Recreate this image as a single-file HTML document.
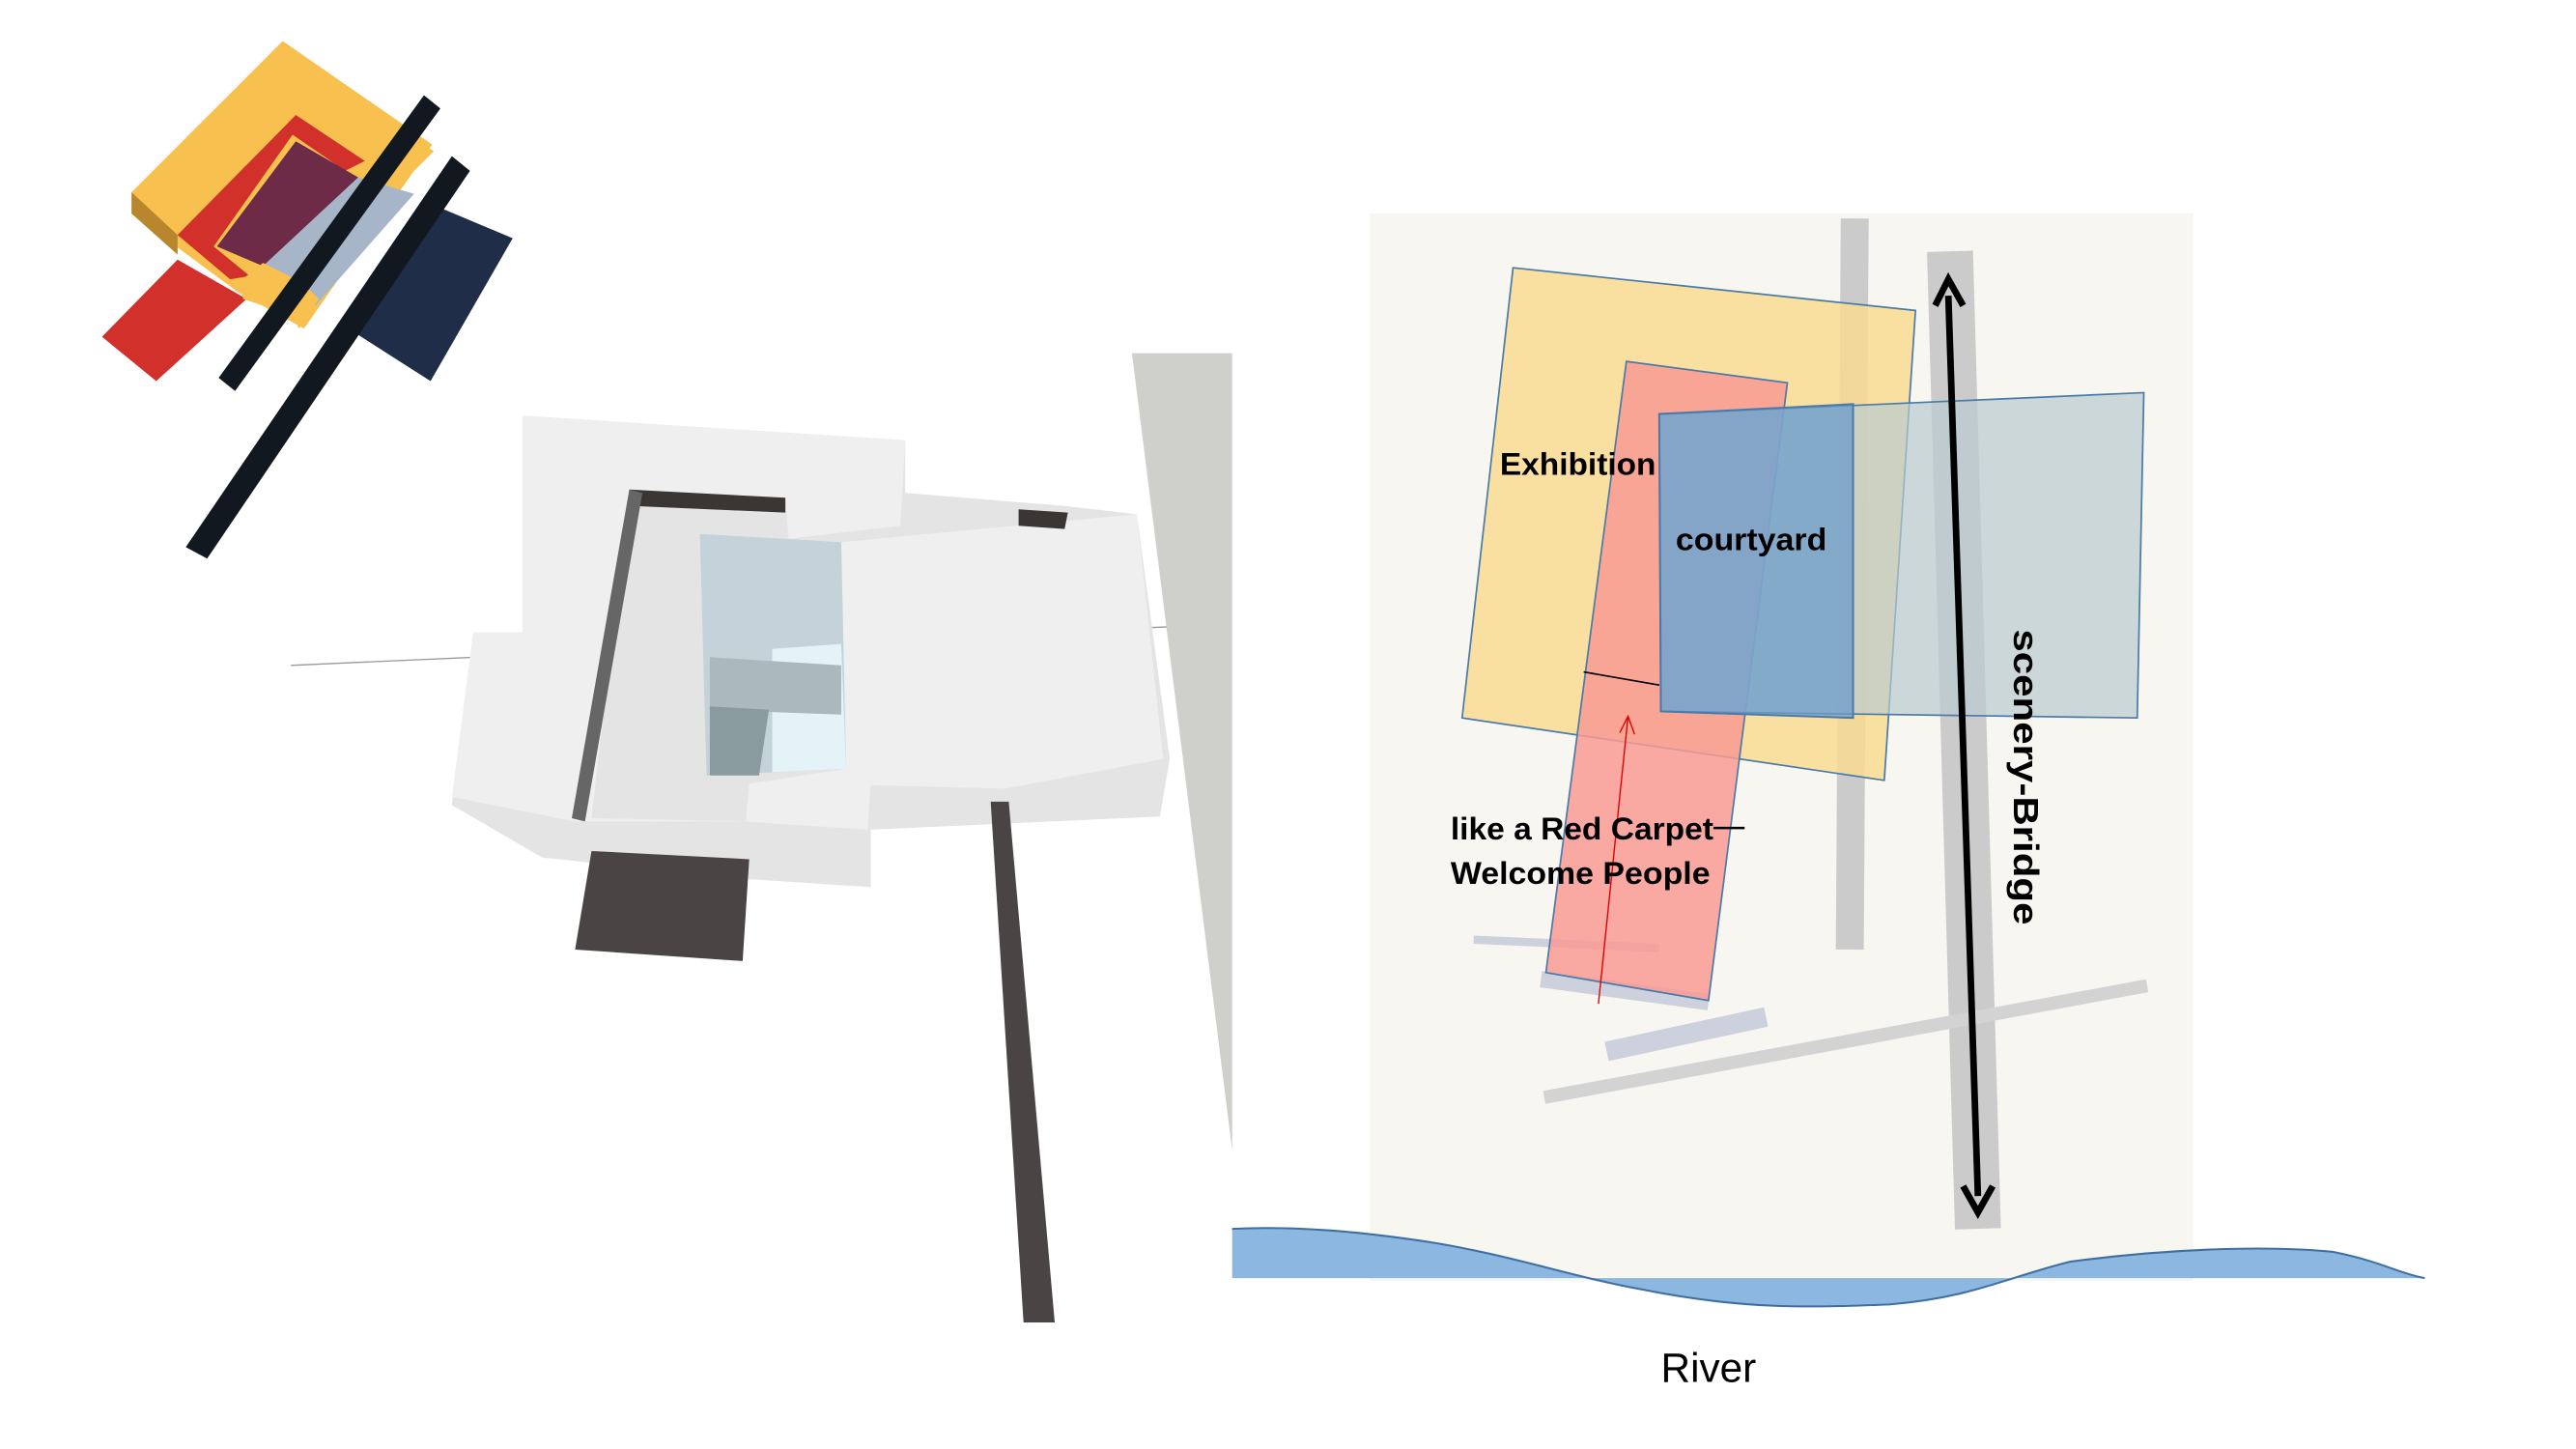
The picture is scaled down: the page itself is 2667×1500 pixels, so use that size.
<!DOCTYPE html>
<html><head><meta charset="utf-8"><style>
html,body{margin:0;padding:0;background:#fff;}
svg{display:block;}
text{font-family:"Liberation Sans",sans-serif;}
</style></head><body>
<svg width="2667" height="1500" viewBox="0 0 1568 882" xmlns="http://www.w3.org/2000/svg">
<rect width="1568" height="882" fill="#fff"/>
<!-- axon model -->
<polygon points="80,117 172,25 263,88 185,200 145,178 80,130" fill="#f8c04f"/>
<polygon points="80,117 108,143 108,155 80,130" fill="#b8862c"/>
<polygon points="108,143 180,70 222,98 210,104 178,82 130,150 152,168 140,170" fill="#d2302a"/>
<polygon points="62,205 108,158 150,182 95,232" fill="#d2302a"/>
<polygon points="132,150 180,86 218,108 160,162" fill="#6e2b47"/>
<polygon points="160,162 218,108 252,118 192,186" fill="#a7b5c8"/>
<polygon points="145,172 160,160 180,170 166,188 148,182" fill="#f8c04f"/>
<polygon points="174,186 186,174 194,182 182,200" fill="#f8c04f"/>
<polygon points="238,92 252,84 264,92 250,106" fill="#f8c04f"/>
<polygon points="212,200 262,124 312,145 262,232" fill="#1f2d48"/>
<polygon points="133,230 258,58 268,66 143,238" fill="#111820"/>
<polygon points="113,333 275,95 286,104 126,340" fill="#111820"/>
<!-- building -->
<line x1="177" y1="405" x2="290" y2="400" stroke="#999" stroke-width="0.8"/>
<line x1="700" y1="382" x2="750" y2="380" stroke="#999" stroke-width="0.8"/>
<polygon points="318,253 551,268 551,300 648,308 692,313 712,462 706,497 530,505 530,540 454,535 330,522 275,490 288,385 318,385" fill="#e4e4e4"/>
<polygon points="318,253 551,268 548,320 480,328 478,303 383,298 360,498 454,500 456,477 515,468 512,330 692,313 708,462 612,480 530,478 528,505 452,500 350,500 275,485 288,385 318,385" fill="#efefef"/>
<polygon points="383,298 478,303 478,312 385,308" fill="#3a3634"/>
<polygon points="383,298 391,300 356,500 348,498" fill="#666"/>
<polygon points="426,325 512,330 515,468 430,472" fill="#c4d3d9"/>
<polygon points="470,395 512,392 515,468 470,470" fill="#e3f3f8"/>
<polygon points="432,400 512,405 512,435 432,432" fill="#aab9bd"/>
<polygon points="432,430 468,432 462,472 432,472" fill="#8a9ba0"/>
<polygon points="620,310 650,312 648,322 620,320" fill="#3a3634"/>
<polygon points="360,518 456,523 452,585 350,578" fill="#4a4544"/>
<polygon points="603,488 614,488 642,805 623,805" fill="#4a4544"/>
<!-- gray wedge -->
<polygon points="689,215 750,215 750,700" fill="#cfcfcb"/>
<!-- paper -->
<rect x="834" y="130" width="501" height="650" fill="#f7f6f1"/>
<line x1="1129" y1="133" x2="1126" y2="578" stroke="#cbcbcb" stroke-width="17"/>
<line x1="1187" y1="153" x2="1204" y2="748" stroke="#cbcbcb" stroke-width="28"/>
<line x1="940" y1="668" x2="1307" y2="600" stroke="#d3d3d3" stroke-width="8"/>
<line x1="897" y1="572" x2="1010" y2="577" stroke="#cdd0dd" stroke-width="5"/>
<line x1="938" y1="596" x2="1040" y2="610" stroke="#cdd0dd" stroke-width="10"/>
<line x1="978" y1="640" x2="1075" y2="619" stroke="#cdd0dd" stroke-width="12"/>
<polygon points="921,163 1166,189 1147,475 890,437" fill="#f9dc93" fill-opacity="0.85" stroke="#4a7aa8" stroke-width="1"/>
<polygon points="990,220 1088,233 1040,609 941,592" fill="#f99a94" fill-opacity="0.85" stroke="#4a7aa8" stroke-width="1"/>
<polygon points="1010,252 1305,239 1301,437 1011,433" fill="#b9cad0" fill-opacity="0.7" stroke="#4a7aa8" stroke-width="1"/>
<polygon points="1010,252 1128,246 1128,437 1011,433" fill="#6c9ccb" fill-opacity="0.75" stroke="#4a7aa8" stroke-width="1.2"/>
<line x1="964" y1="409" x2="1010" y2="417" stroke="#000" stroke-width="1"/>
<line x1="973" y1="611" x2="991" y2="436" stroke="#d00" stroke-width="0.8"/>
<polyline points="986,446 991,436 995,447" fill="none" stroke="#d00" stroke-width="0.8"/>
<!-- arrow -->
<line x1="1186" y1="180" x2="1204" y2="728" stroke="#000" stroke-width="4"/>
<polyline points="1178,186 1186,170 1195,186" fill="none" stroke="#000" stroke-width="4"/>
<polyline points="1195,722 1204,738 1213,722" fill="none" stroke="#000" stroke-width="4"/>
<!-- river -->
<path d="M750,748 C790,746 830,750 870,756 C920,764 960,778 1000,785 C1060,797 1100,796 1150,794 C1200,790 1220,778 1260,768 C1320,760 1380,758 1420,762 C1450,768 1460,775 1476,778 L750,778 Z" fill="#8cb7e1"/>
<path d="M750,748 C790,746 830,750 870,756 C920,764 960,778 1000,785 C1060,797 1100,796 1150,794 C1200,790 1220,778 1260,768 C1320,760 1380,758 1420,762 C1450,768 1460,775 1476,778" fill="none" stroke="#3f6fa0" stroke-width="1.2"/>
<!-- labels -->
<text x="913" y="289" font-size="19" font-weight="bold" textLength="95" lengthAdjust="spacingAndGlyphs">Exhibition</text>
<text x="1020" y="335" font-size="19" font-weight="bold" textLength="92" lengthAdjust="spacingAndGlyphs">courtyard</text>
<text x="883" y="511" font-size="19" font-weight="bold" textLength="160" lengthAdjust="spacingAndGlyphs">like a Red Carpet</text>
<line x1="1043" y1="504" x2="1062" y2="504" stroke="#000" stroke-width="1.5"/>
<text x="883" y="538" font-size="19" font-weight="bold" textLength="158" lengthAdjust="spacingAndGlyphs">Welcome People</text>
<text transform="translate(1226,383) rotate(90)" font-size="21" font-weight="bold" textLength="180" lengthAdjust="spacingAndGlyphs">scenery-Bridge</text>
<text x="1011" y="841" font-size="25" textLength="58" lengthAdjust="spacingAndGlyphs">River</text>
</svg>
</body></html>
